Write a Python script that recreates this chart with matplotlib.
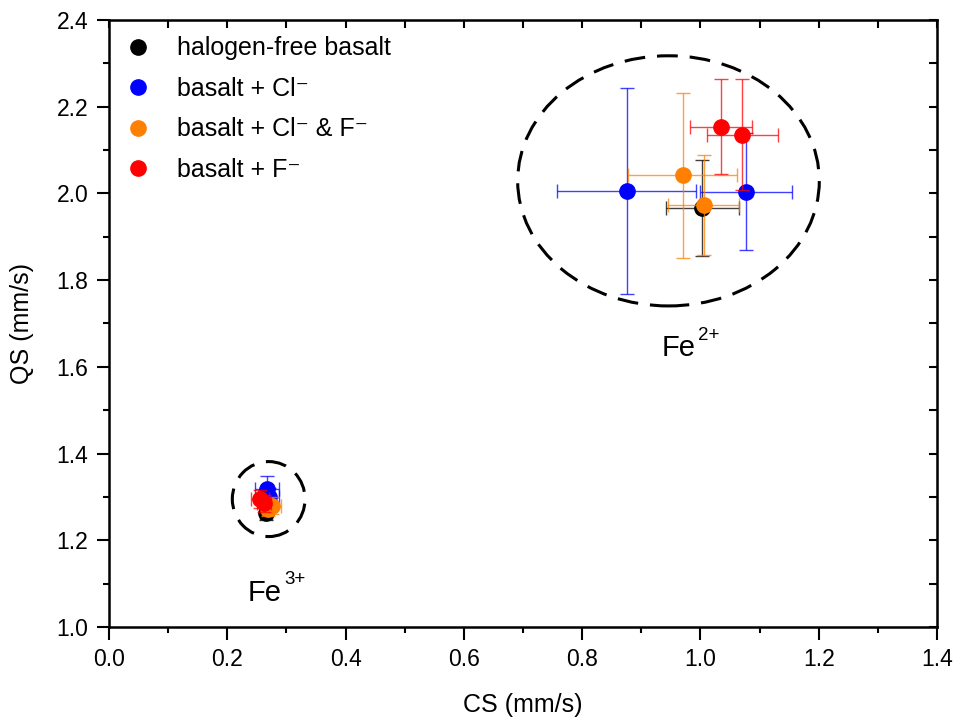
import numpy as np
import matplotlib
matplotlib.use('Agg')
import matplotlib.pyplot as plt
from matplotlib.patches import Ellipse

plt.rcParams['font.family'] = ['Liberation Sans', 'DejaVu Sans']

# series: CS, QS and their errors (Fe3+ site first, then Fe2+ site)
labels = ['halogen-free basalt', 'basalt + Cl\u207b', 'basalt + Cl\u207b & F\u207b', 'basalt + F\u207b']
colors = ['black', '#0000ff', '#ff8000', '#ff0000']

black_cs = [0.265, 1.003]
black_qs = [1.262, 1.966]
black_cs_err = [0.010, 0.062]
black_qs_err = [0.015, 0.110]

blue_cs = [0.267, 0.270, 0.875, 1.077]
blue_qs = [1.318, 1.300, 2.006, 2.004]
blue_cs_err = [0.020, 0.018, 0.117, 0.078]
blue_qs_err = [0.030, 0.020, 0.237, 0.135]

orange_cs = [0.276, 0.268, 0.970, 1.006]
orange_qs = [1.280, 1.272, 2.042, 1.973]
orange_cs_err = [0.015, 0.010, 0.092, 0.060]
orange_qs_err = [0.020, 0.015, 0.190, 0.116]

red_cs = [0.255, 0.262, 1.035, 1.071]
red_qs = [1.295, 1.285, 2.154, 2.135]
red_cs_err = [0.015, 0.012, 0.053, 0.060]
red_qs_err = [0.020, 0.020, 0.110, 0.128]

series = [
    (black_cs, black_qs, black_cs_err, black_qs_err),
    (blue_cs, blue_qs, blue_cs_err, blue_qs_err),
    (orange_cs, orange_qs, orange_cs_err, orange_qs_err),
    (red_cs, red_qs, red_cs_err, red_qs_err),
]

fig = plt.figure(figsize=(9.57, 7.25), dpi=100)
ax = fig.add_axes([0.1139, 0.1352, 0.8652, 0.8372])

for (cs, qs, cse, qse), c, lab in zip(series, colors, labels):
    ax.errorbar(cs, qs, xerr=cse, yerr=qse, fmt='none', ecolor=c, elinewidth=1,
                capsize=5, capthick=1, alpha=0.75)
    ax.plot(cs, qs, 'o', color=c, markersize=11, label=lab, linestyle='none')

# dashed ellipses around the two iron sites
ax.add_patch(Ellipse((0.946, 2.029), 0.51, 0.577, fill=False, ls=(0, (6.8, 3.9)),
                     lw=2.2, color='black'))
ax.add_patch(Ellipse((0.270, 1.295), 0.123, 0.173, fill=False, ls=(0, (6.8, 3.9)),
                     lw=2.2, color='black'))

# site labels, superscript drawn as a separate smaller text
for x, y, sup in [(0.935, 1.625, '2+'), (0.235, 1.061, '3+')]:
    fe = ax.text(x, y, 'Fe', fontsize=21, ha='left', va='baseline')
    ax.annotate(sup, xy=(1, 0), xycoords=fe, xytext=(1.5, 16),
                textcoords='offset points', fontsize=13.5, ha='left', va='baseline')

ax.set_xlim(0, 1.4)
ax.set_ylim(1.0, 2.4)
ax.set_xticks(np.arange(0, 1.41, 0.2))
ax.set_yticks(np.arange(1.0, 2.41, 0.2))
ax.set_xticks(np.arange(0.1, 1.4, 0.2), minor=True)
ax.set_yticks(np.arange(1.1, 2.4, 0.2), minor=True)
ax.xaxis.set_major_formatter(plt.FormatStrFormatter('%.1f'))
ax.yaxis.set_major_formatter(plt.FormatStrFormatter('%.1f'))
ax.tick_params(which='both', direction='out', width=1.5, labelsize=16.5,
               top=False, right=False)
ax.tick_params(which='major', length=9, pad=6)
ax.tick_params(which='minor', length=4.5)
for sp in ax.spines.values():
    sp.set_linewidth(1.8)

# inward ticks on top and right
secx = ax.secondary_xaxis('top')
secx.set_xticks(np.arange(0, 1.41, 0.1))
secx.tick_params(direction='in', length=6, width=1.5, labeltop=False)
secy = ax.secondary_yaxis('right')
secy.set_yticks(np.arange(1.0, 2.41, 0.1))
secy.tick_params(direction='in', length=6, width=1.5, labelright=False)

ax.set_xlabel('CS (mm/s)', fontsize=18, labelpad=16)
ax.set_ylabel('QS (mm/s)', fontsize=18, labelpad=16)

ax.legend(loc='upper left', frameon=False, fontsize=18, handlelength=1.0,
          handletextpad=1.05, borderaxespad=0.25, labelspacing=0.66)

fig.savefig('out.png', dpi=100)
